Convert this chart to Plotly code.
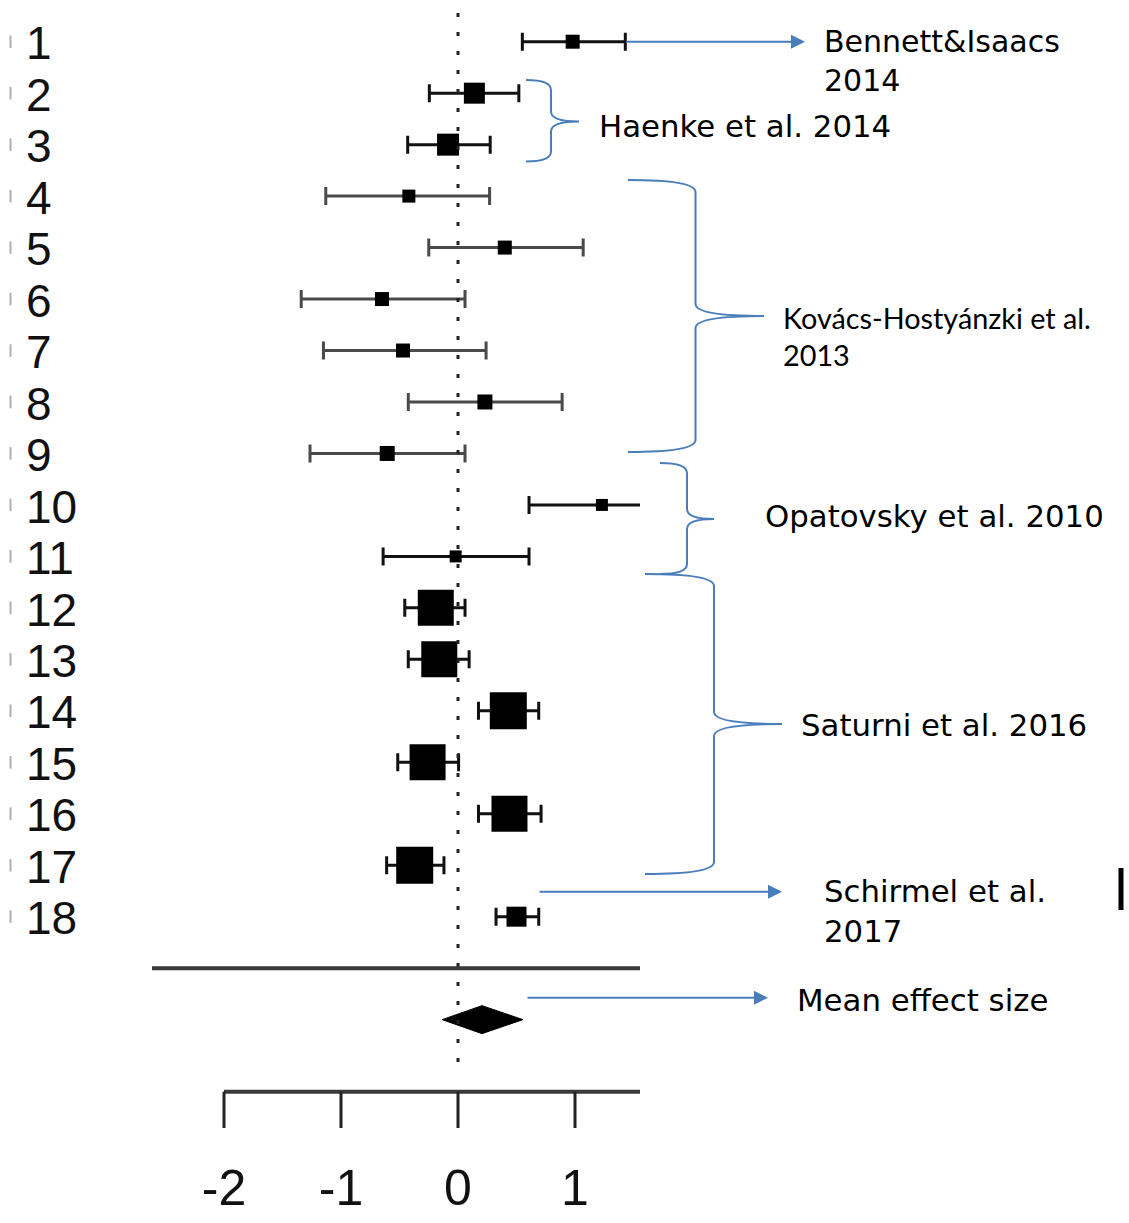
import plotly.graph_objects as go

# ---------------- data ----------------
rows = list(range(1, 19))
row_labels = [str(r) for r in rows]
est   = [0.98, 0.14, -0.085, -0.42, 0.40, -0.65, -0.47, 0.23, -0.605, 1.23, -0.02, -0.19, -0.16, 0.43, -0.26, 0.44, -0.37, 0.50]
ci_lo = [0.55, -0.245, -0.43, -1.13, -0.25, -1.34, -1.15, -0.425, -1.265, 0.607, -0.64, -0.455, -0.425, 0.175, -0.515, 0.175, -0.61, 0.325]
ci_hi = [1.43, 0.52, 0.275, 0.27, 1.07, 0.06, 0.24, 0.89, 0.06, 1.85, 0.607, 0.06, 0.095, 0.69, 0.005, 0.71, -0.12, 0.69]
box_size = [14, 21, 22, 13, 14, 14, 14, 15, 15, 12, 12, 36, 36, 37, 36, 36, 37, 20]
study = (["Bennett&Isaacs 2014"] + ["Haenke et al. 2014"] * 2 + ["Kovács-Hostyánzki et al. 2013"] * 6
         + ["Opatovsky et al. 2010"] * 2 + ["Saturni et al. 2016"] * 6 + ["Schirmel et al. 2017"])
mean_est, mean_lo, mean_hi = 0.205, -0.135, 0.555
tick_vals = [-2, -1, 0, 1]
tick_text = ["-2", "-1", "0", "1"]

# ---------------- geometry ----------------
W, H = 1129, 1223
PX_PER_UNIT = 117.0
ZERO_PX = 458.0
FOREST_RIGHT_PX = 640.0
ROW1_PX = 41.7
ROW_PX = 51.47
y_top = 1 - ROW1_PX / ROW_PX
y_bot = y_top + H / ROW_PX
x_lo = -ZERO_PX / PX_PER_UNIT
x_hi = (FOREST_RIGHT_PX - ZERO_PX) / PX_PER_UNIT

SEP_ROW = 19
POOL_ROW = 20
AXIS_ROW = 21.4
TICK_END_ROW = 22.106
TICKLAB_ROW = 23.36
LABEL_X = (26 - ZERO_PX) / PX_PER_UNIT
MARK_X = (10.5 - ZERO_PX) / PX_PER_UNIT

BLUE = "#4a7ebb"
INK = "#111111"

fig = go.Figure()

# little grey marks at the left edge
fig.add_trace(go.Scatter(x=[MARK_X] * len(rows), y=rows, mode="markers",
                         marker=dict(symbol="line-ns", size=9, line=dict(width=2, color="#b0b0b0")),
                         xaxis="x", yaxis="y", hoverinfo="skip"))

# study estimates with confidence intervals
for r, e, lo, hi, s, st in zip(rows, est, ci_lo, ci_hi, box_size, study):
    col = "#4a4a4a" if st.startswith("Kovács") else INK
    fig.add_trace(go.Scatter(
        x=[e], y=[r], mode="markers",
        marker=dict(symbol="square", size=s, color="black", line=dict(width=0)),
        error_x=dict(type="data", symmetric=False, array=[hi - e], arrayminus=[e - lo],
                     color=col, thickness=3, width=9),
        xaxis="x", yaxis="y", hoverinfo="skip"))

# pooled diamond
dh = 14 / ROW_PX
fig.add_trace(go.Scatter(x=[mean_lo, mean_est, mean_hi, mean_est, mean_lo],
                         y=[POOL_ROW, POOL_ROW - dh, POOL_ROW, POOL_ROW + dh, POOL_ROW],
                         mode="lines", fill="toself", fillcolor="black",
                         line=dict(color="black", width=1), xaxis="x", yaxis="y", hoverinfo="skip"))

# row labels
fig.add_trace(go.Scatter(x=[LABEL_X] * len(rows), y=[r + 0.12 for r in rows], mode="text",
                         text=row_labels, textposition="middle right",
                         textfont=dict(family="Liberation Sans, Arial", size=46, color=INK),
                         xaxis="x", yaxis="y", hoverinfo="skip"))

# tick labels
fig.add_trace(go.Scatter(x=tick_vals, y=[TICKLAB_ROW] * len(tick_vals), mode="text",
                         text=tick_text, textposition="middle center",
                         textfont=dict(family="Liberation Sans, Arial", size=50, color=INK),
                         xaxis="x", yaxis="y", hoverinfo="skip"))

shapes = []
# dotted zero line
shapes.append(dict(type="line", xref="x", yref="y", x0=0, x1=0, y0=0.442, y1=20.92,
                   line=dict(color="#222", width=3, dash="4px,15px")))
# separator line
shapes.append(dict(type="line", xref="x", yref="y", x0=(152 - ZERO_PX) / PX_PER_UNIT, x1=2,
                   y0=SEP_ROW, y1=SEP_ROW, line=dict(color="#3a3a3a", width=4)))
# axis line and ticks
shapes.append(dict(type="line", xref="x", yref="y", x0=tick_vals[0], x1=2,
                   y0=AXIS_ROW, y1=AXIS_ROW, line=dict(color="#3a3a3a", width=4)))
for t in tick_vals:
    shapes.append(dict(type="line", xref="x", yref="y", x0=t, x1=t, y0=AXIS_ROW, y1=TICK_END_ROW,
                       line=dict(color="#222", width=3)))

# braces (canvas coordinates in pixels)
def brace(x_end, x_sp, x_tip, yt, ym, yb, c):
    p = (f"M {x_end},{yt} Q {x_sp},{yt} {x_sp},{yt + c} L {x_sp},{ym - c} "
         f"Q {x_sp},{ym} {x_tip},{ym} Q {x_sp},{ym} {x_sp},{ym + c} "
         f"L {x_sp},{yb - c} Q {x_sp},{yb} {x_end},{yb}")
    return dict(type="path", xref="x2", yref="y2", path=p,
                line=dict(color=BLUE, width=2), fillcolor="rgba(0,0,0,0)")

shapes.append(brace(526, 551, 579, 80, 121.5, 161.5, 10))
shapes.append(brace(628, 695.5, 764, 180, 316, 452, 12))
shapes.append(brace(660, 687, 714, 463, 519, 574, 10))
shapes.append(brace(645, 714, 782, 574, 724, 874, 12))
# black bar at right
shapes.append(dict(type="line", xref="x2", yref="y2", x0=1121, x1=1121, y0=868, y1=910,
                   line=dict(color="black", width=5)))

annotations = []
def arrow(x_tail, x_tip, y):
    return dict(xref="x2", yref="y2", axref="x2", ayref="y2", x=x_tip, y=y, ax=x_tail, ay=y,
                text="", showarrow=True, arrowhead=2, arrowsize=1.4, arrowwidth=2,
                arrowcolor=BLUE, standoff=0, startstandoff=0)

annotations.append(arrow(625, 805, 41.7))
annotations.append(arrow(538, 782, 891.7))
annotations.append(arrow(526, 768, 997.7))

def label(text, x, y, family="DejaVu Sans", size=30.8):
    return dict(xref="x2", yref="y2", x=x, y=y, text=text, showarrow=False,
                xanchor="left", yanchor="middle", align="left",
                font=dict(family=family, size=size, color="black"))

annotations.append(label("Bennett&amp;Isaacs<br>2014", 822, 61, size=30))
annotations.append(label("Haenke et al. 2014", 597, 126))
annotations.append(label("Kovács-Hostyánzki et al.<br>2013", 781, 336, family="Lato", size=28.8))
annotations.append(label("Opatovsky et al. 2010", 763, 516))
annotations.append(label("Saturni et al. 2016", 799, 725))
annotations.append(label("Schirmel et al.<br>2017", 822, 911))
annotations.append(label("Mean effect size", 795, 1000))

fig.update_layout(
    width=W, height=H, margin=dict(l=0, r=0, t=0, b=0),
    paper_bgcolor="white", plot_bgcolor="rgba(0,0,0,0)",
    showlegend=False, hovermode=False,
    xaxis=dict(domain=[0, FOREST_RIGHT_PX / W], range=[x_lo, x_hi], visible=False, anchor="y"),
    yaxis=dict(domain=[0, 1], range=[y_bot, y_top], visible=False, anchor="x"),
    xaxis2=dict(domain=[0, 1], range=[0, W], visible=False, anchor="y2"),
    yaxis2=dict(domain=[0, 1], range=[H, 0], visible=False, anchor="x2"),
    shapes=shapes, annotations=annotations,
)

fig.write_html("out.html", config={"displayModeBar": False},
               post_script="document.body.style.margin='0';")
